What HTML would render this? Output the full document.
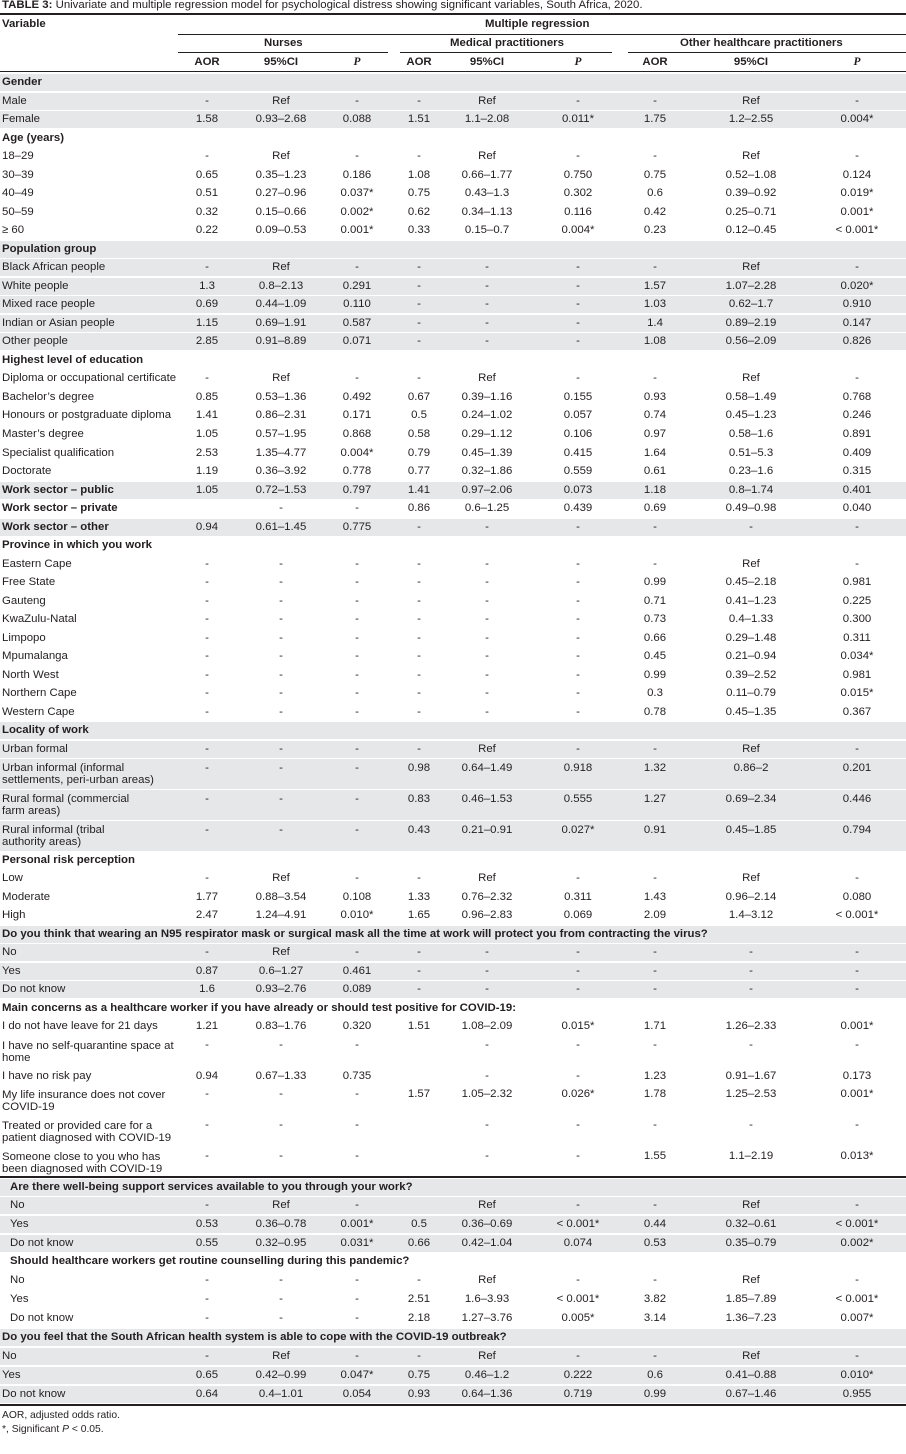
<!DOCTYPE html>
<html><head><meta charset="utf-8"><style>
body{margin:0;width:906px;height:1454px;background:#fff;position:relative;font-family:"Liberation Sans",sans-serif;font-size:11.4px;color:#231f20;overflow:hidden}
.t{position:absolute;white-space:nowrap}
.r{position:absolute;left:0;width:906px;height:17px;line-height:17px;white-space:nowrap}
.r.h2{height:30px}
.g{background:#e6e7e8}
.r>span{position:absolute;top:0;width:80px;text-align:center}
.r>.l{left:2px;width:176px;text-align:left}
.h2>.l{line-height:12px;top:3px}
.r>b.l{position:absolute;left:2px}
.c1{left:167px}.c2{left:241px}.c3{left:317px}.c4{left:379px}.c5{left:447px}.c6{left:538px}.c7{left:615px}.c8{left:711px}.c9{left:817px}
.ln{position:absolute;background:#231f20}
.in>.l{left:10px}
</style></head><body>
<div class="t" style="left:2px;top:-1px"><b>TABLE 3:</b> Univariate and multiple regression model for psychological distress showing significant variables, South Africa, 2020.</div>
<div class="ln" style="left:0;top:13px;width:906px;height:2px"></div>
<div class="t" style="left:2px;top:18px"><b>Variable</b></div>
<div class="t" style="left:485px;top:18px"><b>Multiple regression</b></div>
<div class="ln" style="left:178px;top:34px;width:728px;height:1px"></div>
<div class="t" style="left:264px;top:37px"><b>Nurses</b></div>
<div class="t" style="left:450px;top:37px"><b>Medical practitioners</b></div>
<div class="t" style="left:680px;top:37px"><b>Other healthcare practitioners</b></div>
<div class="ln" style="left:178px;top:52px;width:210px;height:1px"></div>
<div class="ln" style="left:400px;top:52px;width:212px;height:1px"></div>
<div class="ln" style="left:628px;top:52px;width:278px;height:1px"></div>
<div class="r" style="top:54px;font-weight:bold"><span class="c1">AOR</span><span class="c2">95%CI</span><span class="c3"><i style="font-family:'Liberation Serif'">P</i></span><span class="c4">AOR</span><span class="c5">95%CI</span><span class="c6"><i style="font-family:'Liberation Serif'">P</i></span><span class="c7">AOR</span><span class="c8">95%CI</span><span class="c9"><i style="font-family:'Liberation Serif'">P</i></span></div>
<div class="ln" style="left:0;top:71px;width:906px;height:1px"></div>

<div class="r g" style="top:74px"><b class="l">Gender</b></div>
<div class="r g" style="top:93px"><span class="l">Male</span><span class="c1">-</span><span class="c2">Ref</span><span class="c3">-</span><span class="c4">-</span><span class="c5">Ref</span><span class="c6">-</span><span class="c7">-</span><span class="c8">Ref</span><span class="c9">-</span></div>
<div class="r g" style="top:111px"><span class="l">Female</span><span class="c1">1.58</span><span class="c2">0.93–2.68</span><span class="c3">0.088</span><span class="c4">1.51</span><span class="c5">1.1–2.08</span><span class="c6">0.011*</span><span class="c7">1.75</span><span class="c8">1.2–2.55</span><span class="c9">0.004*</span></div>

<div class="r" style="top:130px"><b class="l">Age (years)</b></div>
<div class="r" style="top:148px"><span class="l">18–29</span><span class="c1">-</span><span class="c2">Ref</span><span class="c3">-</span><span class="c4">-</span><span class="c5">Ref</span><span class="c6">-</span><span class="c7">-</span><span class="c8">Ref</span><span class="c9">-</span></div>
<div class="r" style="top:167px"><span class="l">30–39</span><span class="c1">0.65</span><span class="c2">0.35–1.23</span><span class="c3">0.186</span><span class="c4">1.08</span><span class="c5">0.66–1.77</span><span class="c6">0.750</span><span class="c7">0.75</span><span class="c8">0.52–1.08</span><span class="c9">0.124</span></div>
<div class="r" style="top:185px"><span class="l">40–49</span><span class="c1">0.51</span><span class="c2">0.27–0.96</span><span class="c3">0.037*</span><span class="c4">0.75</span><span class="c5">0.43–1.3</span><span class="c6">0.302</span><span class="c7">0.6</span><span class="c8">0.39–0.92</span><span class="c9">0.019*</span></div>
<div class="r" style="top:204px"><span class="l">50–59</span><span class="c1">0.32</span><span class="c2">0.15–0.66</span><span class="c3">0.002*</span><span class="c4">0.62</span><span class="c5">0.34–1.13</span><span class="c6">0.116</span><span class="c7">0.42</span><span class="c8">0.25–0.71</span><span class="c9">0.001*</span></div>
<div class="r" style="top:222px"><span class="l">≥ 60</span><span class="c1">0.22</span><span class="c2">0.09–0.53</span><span class="c3">0.001*</span><span class="c4">0.33</span><span class="c5">0.15–0.7</span><span class="c6">0.004*</span><span class="c7">0.23</span><span class="c8">0.12–0.45</span><span class="c9">&lt; 0.001*</span></div>

<div class="r g" style="top:241px"><b class="l">Population group</b></div>
<div class="r g" style="top:259px"><span class="l">Black African people</span><span class="c1">-</span><span class="c2">Ref</span><span class="c3">-</span><span class="c4">-</span><span class="c5">-</span><span class="c6">-</span><span class="c7">-</span><span class="c8">Ref</span><span class="c9">-</span></div>
<div class="r g" style="top:278px"><span class="l">White people</span><span class="c1">1.3</span><span class="c2">0.8–2.13</span><span class="c3">0.291</span><span class="c4">-</span><span class="c5">-</span><span class="c6">-</span><span class="c7">1.57</span><span class="c8">1.07–2.28</span><span class="c9">0.020*</span></div>
<div class="r g" style="top:296px"><span class="l">Mixed race people</span><span class="c1">0.69</span><span class="c2">0.44–1.09</span><span class="c3">0.110</span><span class="c4">-</span><span class="c5">-</span><span class="c6">-</span><span class="c7">1.03</span><span class="c8">0.62–1.7</span><span class="c9">0.910</span></div>
<div class="r g" style="top:315px"><span class="l">Indian or Asian people</span><span class="c1">1.15</span><span class="c2">0.69–1.91</span><span class="c3">0.587</span><span class="c4">-</span><span class="c5">-</span><span class="c6">-</span><span class="c7">1.4</span><span class="c8">0.89–2.19</span><span class="c9">0.147</span></div>
<div class="r g" style="top:333px"><span class="l">Other people</span><span class="c1">2.85</span><span class="c2">0.91–8.89</span><span class="c3">0.071</span><span class="c4">-</span><span class="c5">-</span><span class="c6">-</span><span class="c7">1.08</span><span class="c8">0.56–2.09</span><span class="c9">0.826</span></div>

<div class="r" style="top:352px"><b class="l">Highest level of education</b></div>
<div class="r" style="top:370px"><span class="l">Diploma or occupational certificate</span><span class="c1">-</span><span class="c2">Ref</span><span class="c3">-</span><span class="c4">-</span><span class="c5">Ref</span><span class="c6">-</span><span class="c7">-</span><span class="c8">Ref</span><span class="c9">-</span></div>
<div class="r" style="top:389px"><span class="l">Bachelor’s degree</span><span class="c1">0.85</span><span class="c2">0.53–1.36</span><span class="c3">0.492</span><span class="c4">0.67</span><span class="c5">0.39–1.16</span><span class="c6">0.155</span><span class="c7">0.93</span><span class="c8">0.58–1.49</span><span class="c9">0.768</span></div>
<div class="r" style="top:407px"><span class="l">Honours or postgraduate diploma</span><span class="c1">1.41</span><span class="c2">0.86–2.31</span><span class="c3">0.171</span><span class="c4">0.5</span><span class="c5">0.24–1.02</span><span class="c6">0.057</span><span class="c7">0.74</span><span class="c8">0.45–1.23</span><span class="c9">0.246</span></div>
<div class="r" style="top:426px"><span class="l">Master’s degree</span><span class="c1">1.05</span><span class="c2">0.57–1.95</span><span class="c3">0.868</span><span class="c4">0.58</span><span class="c5">0.29–1.12</span><span class="c6">0.106</span><span class="c7">0.97</span><span class="c8">0.58–1.6</span><span class="c9">0.891</span></div>
<div class="r" style="top:445px"><span class="l">Specialist qualification</span><span class="c1">2.53</span><span class="c2">1.35–4.77</span><span class="c3">0.004*</span><span class="c4">0.79</span><span class="c5">0.45–1.39</span><span class="c6">0.415</span><span class="c7">1.64</span><span class="c8">0.51–5.3</span><span class="c9">0.409</span></div>
<div class="r" style="top:463px"><span class="l">Doctorate</span><span class="c1">1.19</span><span class="c2">0.36–3.92</span><span class="c3">0.778</span><span class="c4">0.77</span><span class="c5">0.32–1.86</span><span class="c6">0.559</span><span class="c7">0.61</span><span class="c8">0.23–1.6</span><span class="c9">0.315</span></div>

<div class="r g" style="top:482px"><b class="l">Work sector – public</b><span class="c1">1.05</span><span class="c2">0.72–1.53</span><span class="c3">0.797</span><span class="c4">1.41</span><span class="c5">0.97–2.06</span><span class="c6">0.073</span><span class="c7">1.18</span><span class="c8">0.8–1.74</span><span class="c9">0.401</span></div>
<div class="r" style="top:500px"><b class="l">Work sector – private</b><span class="c2">-</span><span class="c3">-</span><span class="c4">0.86</span><span class="c5">0.6–1.25</span><span class="c6">0.439</span><span class="c7">0.69</span><span class="c8">0.49–0.98</span><span class="c9">0.040</span></div>
<div class="r g" style="top:519px"><b class="l">Work sector – other</b><span class="c1">0.94</span><span class="c2">0.61–1.45</span><span class="c3">0.775</span><span class="c4">-</span><span class="c5">-</span><span class="c6">-</span><span class="c7">-</span><span class="c8">-</span><span class="c9">-</span></div>

<div class="r" style="top:537px"><b class="l">Province in which you work</b></div>
<div class="r" style="top:556px"><span class="l">Eastern Cape</span><span class="c1">-</span><span class="c2">-</span><span class="c3">-</span><span class="c4">-</span><span class="c5">-</span><span class="c6">-</span><span class="c7">-</span><span class="c8">Ref</span><span class="c9">-</span></div>
<div class="r" style="top:574px"><span class="l">Free State</span><span class="c1">-</span><span class="c2">-</span><span class="c3">-</span><span class="c4">-</span><span class="c5">-</span><span class="c6">-</span><span class="c7">0.99</span><span class="c8">0.45–2.18</span><span class="c9">0.981</span></div>
<div class="r" style="top:593px"><span class="l">Gauteng</span><span class="c1">-</span><span class="c2">-</span><span class="c3">-</span><span class="c4">-</span><span class="c5">-</span><span class="c6">-</span><span class="c7">0.71</span><span class="c8">0.41–1.23</span><span class="c9">0.225</span></div>
<div class="r" style="top:611px"><span class="l">KwaZulu-Natal</span><span class="c1">-</span><span class="c2">-</span><span class="c3">-</span><span class="c4">-</span><span class="c5">-</span><span class="c6">-</span><span class="c7">0.73</span><span class="c8">0.4–1.33</span><span class="c9">0.300</span></div>
<div class="r" style="top:630px"><span class="l">Limpopo</span><span class="c1">-</span><span class="c2">-</span><span class="c3">-</span><span class="c4">-</span><span class="c5">-</span><span class="c6">-</span><span class="c7">0.66</span><span class="c8">0.29–1.48</span><span class="c9">0.311</span></div>
<div class="r" style="top:648px"><span class="l">Mpumalanga</span><span class="c1">-</span><span class="c2">-</span><span class="c3">-</span><span class="c4">-</span><span class="c5">-</span><span class="c6">-</span><span class="c7">0.45</span><span class="c8">0.21–0.94</span><span class="c9">0.034*</span></div>
<div class="r" style="top:667px"><span class="l">North West</span><span class="c1">-</span><span class="c2">-</span><span class="c3">-</span><span class="c4">-</span><span class="c5">-</span><span class="c6">-</span><span class="c7">0.99</span><span class="c8">0.39–2.52</span><span class="c9">0.981</span></div>
<div class="r" style="top:685px"><span class="l">Northern Cape</span><span class="c1">-</span><span class="c2">-</span><span class="c3">-</span><span class="c4">-</span><span class="c5">-</span><span class="c6">-</span><span class="c7">0.3</span><span class="c8">0.11–0.79</span><span class="c9">0.015*</span></div>
<div class="r" style="top:704px"><span class="l">Western Cape</span><span class="c1">-</span><span class="c2">-</span><span class="c3">-</span><span class="c4">-</span><span class="c5">-</span><span class="c6">-</span><span class="c7">0.78</span><span class="c8">0.45–1.35</span><span class="c9">0.367</span></div>

<div class="r g" style="top:722px"><b class="l">Locality of work</b></div>
<div class="r g" style="top:741px"><span class="l">Urban formal</span><span class="c1">-</span><span class="c2">-</span><span class="c3">-</span><span class="c4">-</span><span class="c5">Ref</span><span class="c6">-</span><span class="c7">-</span><span class="c8">Ref</span><span class="c9">-</span></div>
<div class="r g h2" style="top:759px;line-height:18px"><span class="l">Urban informal (informal<br>settlements, peri-urban areas)</span><span class="c1">-</span><span class="c2">-</span><span class="c3">-</span><span class="c4">0.98</span><span class="c5">0.64–1.49</span><span class="c6">0.918</span><span class="c7">1.32</span><span class="c8">0.86–2</span><span class="c9">0.201</span></div>
<div class="r g h2" style="top:790px;line-height:18px"><span class="l">Rural formal (commercial<br>farm areas)</span><span class="c1">-</span><span class="c2">-</span><span class="c3">-</span><span class="c4">0.83</span><span class="c5">0.46–1.53</span><span class="c6">0.555</span><span class="c7">1.27</span><span class="c8">0.69–2.34</span><span class="c9">0.446</span></div>
<div class="r g h2" style="top:821px;line-height:18px"><span class="l">Rural informal (tribal<br>authority areas)</span><span class="c1">-</span><span class="c2">-</span><span class="c3">-</span><span class="c4">0.43</span><span class="c5">0.21–0.91</span><span class="c6">0.027*</span><span class="c7">0.91</span><span class="c8">0.45–1.85</span><span class="c9">0.794</span></div>

<div class="r" style="top:852px"><b class="l">Personal risk perception</b></div>
<div class="r" style="top:870px"><span class="l">Low</span><span class="c1">-</span><span class="c2">Ref</span><span class="c3">-</span><span class="c4">-</span><span class="c5">Ref</span><span class="c6">-</span><span class="c7">-</span><span class="c8">Ref</span><span class="c9">-</span></div>
<div class="r" style="top:889px"><span class="l">Moderate</span><span class="c1">1.77</span><span class="c2">0.88–3.54</span><span class="c3">0.108</span><span class="c4">1.33</span><span class="c5">0.76–2.32</span><span class="c6">0.311</span><span class="c7">1.43</span><span class="c8">0.96–2.14</span><span class="c9">0.080</span></div>
<div class="r" style="top:907px"><span class="l">High</span><span class="c1">2.47</span><span class="c2">1.24–4.91</span><span class="c3">0.010*</span><span class="c4">1.65</span><span class="c5">0.96–2.83</span><span class="c6">0.069</span><span class="c7">2.09</span><span class="c8">1.4–3.12</span><span class="c9">&lt; 0.001*</span></div>

<div class="r g" style="top:926px"><b class="l" style="width:900px">Do you think that wearing an N95 respirator mask or surgical mask all the time at work will protect you from contracting the virus?</b></div>
<div class="r g" style="top:944px"><span class="l">No</span><span class="c1">-</span><span class="c2">Ref</span><span class="c3">-</span><span class="c4">-</span><span class="c5">-</span><span class="c6">-</span><span class="c7">-</span><span class="c8">-</span><span class="c9">-</span></div>
<div class="r g" style="top:963px"><span class="l">Yes</span><span class="c1">0.87</span><span class="c2">0.6–1.27</span><span class="c3">0.461</span><span class="c4">-</span><span class="c5">-</span><span class="c6">-</span><span class="c7">-</span><span class="c8">-</span><span class="c9">-</span></div>
<div class="r g" style="top:981px"><span class="l">Do not know</span><span class="c1">1.6</span><span class="c2">0.93–2.76</span><span class="c3">0.089</span><span class="c4">-</span><span class="c5">-</span><span class="c6">-</span><span class="c7">-</span><span class="c8">-</span><span class="c9">-</span></div>

<div class="r" style="top:1000px"><b class="l" style="width:900px">Main concerns as a healthcare worker if you have already or should test positive for COVID-19:</b></div>
<div class="r" style="top:1018px"><span class="l">I do not have leave for 21 days</span><span class="c1">1.21</span><span class="c2">0.83–1.76</span><span class="c3">0.320</span><span class="c4">1.51</span><span class="c5">1.08–2.09</span><span class="c6">0.015*</span><span class="c7">1.71</span><span class="c8">1.26–2.33</span><span class="c9">0.001*</span></div>
<div class="r h2" style="top:1037px"><span class="l">I have no self-quarantine space at<br>home</span><span class="c1">-</span><span class="c2">-</span><span class="c3">-</span><span class="c5">-</span><span class="c6">-</span><span class="c7">-</span><span class="c8">-</span><span class="c9">-</span></div>
<div class="r" style="top:1068px"><span class="l">I have no risk pay</span><span class="c1">0.94</span><span class="c2">0.67–1.33</span><span class="c3">0.735</span><span class="c5">-</span><span class="c6">-</span><span class="c7">1.23</span><span class="c8">0.91–1.67</span><span class="c9">0.173</span></div>
<div class="r h2" style="top:1086px"><span class="l">My life insurance does not cover<br>COVID-19</span><span class="c1">-</span><span class="c2">-</span><span class="c3">-</span><span class="c4">1.57</span><span class="c5">1.05–2.32</span><span class="c6">0.026*</span><span class="c7">1.78</span><span class="c8">1.25–2.53</span><span class="c9">0.001*</span></div>
<div class="r h2" style="top:1117px"><span class="l">Treated or provided care for a<br>patient diagnosed with COVID-19</span><span class="c1">-</span><span class="c2">-</span><span class="c3">-</span><span class="c5">-</span><span class="c6">-</span><span class="c7">-</span><span class="c8">-</span><span class="c9">-</span></div>
<div class="r h2" style="top:1148px"><span class="l">Someone close to you who has<br>been diagnosed with COVID-19</span><span class="c1">-</span><span class="c2">-</span><span class="c3">-</span><span class="c5">-</span><span class="c6">-</span><span class="c7">1.55</span><span class="c8">1.1–2.19</span><span class="c9">0.013*</span></div>
<div class="ln" style="left:0;top:1176px;width:906px;height:2px"></div>

<div class="r g in" style="top:1179px"><b class="l" style="left:10px;width:800px">Are there well-being support services available to you through your work?</b></div>
<div class="r g in" style="top:1197px"><span class="l">No</span><span class="c1">-</span><span class="c2">Ref</span><span class="c3">-</span><span class="c5">Ref</span><span class="c6">-</span><span class="c7">-</span><span class="c8">Ref</span><span class="c9">-</span></div>
<div class="r g in" style="top:1216px"><span class="l">Yes</span><span class="c1">0.53</span><span class="c2">0.36–0.78</span><span class="c3">0.001*</span><span class="c4">0.5</span><span class="c5">0.36–0.69</span><span class="c6">&lt; 0.001*</span><span class="c7">0.44</span><span class="c8">0.32–0.61</span><span class="c9">&lt; 0.001*</span></div>
<div class="r g in" style="top:1235px"><span class="l">Do not know</span><span class="c1">0.55</span><span class="c2">0.32–0.95</span><span class="c3">0.031*</span><span class="c4">0.66</span><span class="c5">0.42–1.04</span><span class="c6">0.074</span><span class="c7">0.53</span><span class="c8">0.35–0.79</span><span class="c9">0.002*</span></div>

<div class="r in" style="top:1253px"><b class="l" style="left:10px;width:800px">Should healthcare workers get routine counselling during this pandemic?</b></div>
<div class="r in" style="top:1272px"><span class="l">No</span><span class="c1">-</span><span class="c2">-</span><span class="c3">-</span><span class="c4">-</span><span class="c5">Ref</span><span class="c6">-</span><span class="c7">-</span><span class="c8">Ref</span><span class="c9">-</span></div>
<div class="r in" style="top:1291px"><span class="l">Yes</span><span class="c1">-</span><span class="c2">-</span><span class="c3">-</span><span class="c4">2.51</span><span class="c5">1.6–3.93</span><span class="c6">&lt; 0.001*</span><span class="c7">3.82</span><span class="c8">1.85–7.89</span><span class="c9">&lt; 0.001*</span></div>
<div class="r in" style="top:1310px"><span class="l">Do not know</span><span class="c1">-</span><span class="c2">-</span><span class="c3">-</span><span class="c4">2.18</span><span class="c5">1.27–3.76</span><span class="c6">0.005*</span><span class="c7">3.14</span><span class="c8">1.36–7.23</span><span class="c9">0.007*</span></div>

<div class="r g" style="top:1329px"><b class="l" style="width:800px">Do you feel that the South African health system is able to cope with the COVID-19 outbreak?</b></div>
<div class="r g" style="top:1348px"><span class="l">No</span><span class="c1">-</span><span class="c2">Ref</span><span class="c3">-</span><span class="c4">-</span><span class="c5">Ref</span><span class="c6">-</span><span class="c7">-</span><span class="c8">Ref</span><span class="c9">-</span></div>
<div class="r g" style="top:1367px"><span class="l">Yes</span><span class="c1">0.65</span><span class="c2">0.42–0.99</span><span class="c3">0.047*</span><span class="c4">0.75</span><span class="c5">0.46–1.2</span><span class="c6">0.222</span><span class="c7">0.6</span><span class="c8">0.41–0.88</span><span class="c9">0.010*</span></div>
<div class="r g" style="top:1386px"><span class="l">Do not know</span><span class="c1">0.64</span><span class="c2">0.4–1.01</span><span class="c3">0.054</span><span class="c4">0.93</span><span class="c5">0.64–1.36</span><span class="c6">0.719</span><span class="c7">0.99</span><span class="c8">0.67–1.46</span><span class="c9">0.955</span></div>
<div class="ln" style="left:0;top:1404px;width:906px;height:2px"></div>

<div class="t" style="left:2px;top:1410px;font-size:10.3px">AOR, adjusted odds ratio.</div>
<div class="t" style="left:2px;top:1424px;font-size:10.3px">*, Significant <i>P</i> &lt; 0.05.</div>
</body></html>
